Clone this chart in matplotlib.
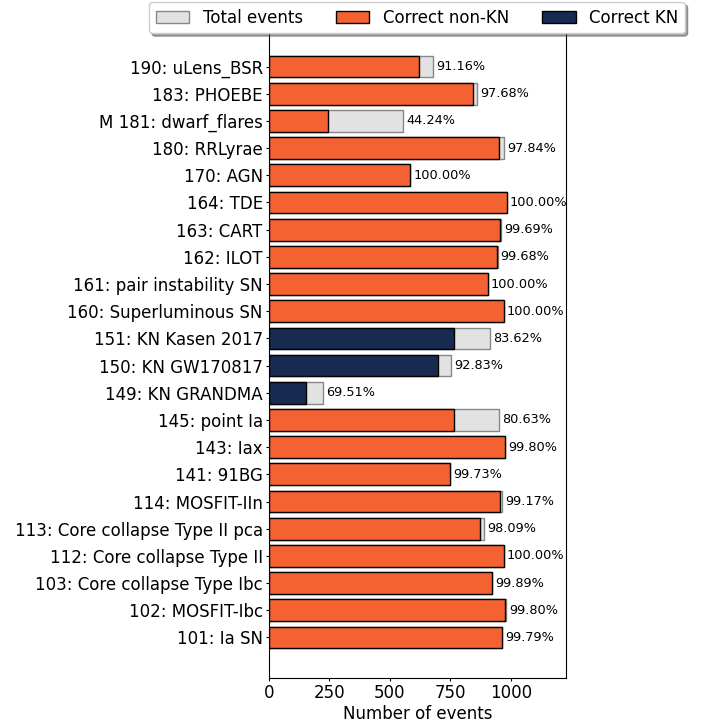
import matplotlib
matplotlib.use("Agg")
import matplotlib.pyplot as plt
import numpy as np

# Classes, bottom to top
labels = [
    "101: Ia SN", "102: MOSFIT-Ibc", "103: Core collapse Type Ibc",
    "112: Core collapse Type II", "113: Core collapse Type II pca",
    "114: MOSFIT-IIn", "141: 91BG", "143: Iax", "145: point Ia",
    "149: KN GRANDMA", "150: KN GW170817", "151: KN Kasen 2017",
    "160: Superluminous SN", "161: pair instability SN", "162: ILOT",
    "163: CART", "164: TDE", "170: AGN", "180: RRLyrae",
    "M 181: dwarf_flares", "183: PHOEBE", "190: uLens_BSR",
]
total_events = [965, 980, 924, 971, 890, 963, 750, 977, 950,
                223, 753, 916, 971, 906, 946, 960, 983, 585, 971,
                556, 862, 679]
correct_events = [963, 978, 923, 971, 873, 955, 748, 975, 766,
                  155, 699, 766, 971, 906, 943, 957, 983, 585, 950,
                  246, 842, 619]
is_kn = [False] * 9 + [True] * 3 + [False] * 10

total = np.array(total_events)
correct = np.array(correct_events)
kn = np.array(is_kn)
y = np.arange(len(labels))

c_total = "#e2e2e2"
c_nonkn = "#f46231"
c_kn = "#172a4f"

fig = plt.figure(figsize=(7.07, 7.22), dpi=100)
ax = fig.add_axes([269 / 707, 44 / 722, (566 - 269) / 707, (678 - 26) / 722])

bars_total = ax.barh(y, total, height=0.8, color=c_total, edgecolor="#888888",
                     linewidth=1.0, label="Total events", zorder=1)
ax.barh(y[~kn], correct[~kn], height=0.8, color=c_nonkn, edgecolor="black",
        linewidth=1.0, label="Correct non-KN", zorder=2)
ax.barh(y[kn], correct[kn], height=0.8, color=c_kn, edgecolor="black",
        linewidth=1.0, label="Correct KN", zorder=2)

pct = [f"{100 * c / t:.2f}%" for c, t in zip(correct, total)]
ax.bar_label(bars_total, labels=pct, padding=2.2, fontsize=9.3)

ax.set_yticks(y)
ax.set_yticklabels(labels, fontsize=12)
ax.set_xlim(0, 1.25 * total.max())
ax.set_xticks([0, 250, 500, 750, 1000])
ax.tick_params(axis="x", labelsize=12)
ax.tick_params(axis="both", length=2.5, pad=2)
ax.set_xlabel("Number of events", fontsize=12, labelpad=2)

fig.legend(loc="upper center", bbox_to_anchor=(417 / 707, 1 - 2 / 722),
           ncol=3, fontsize=12, shadow=True, borderaxespad=0.0,
           columnspacing=2.0, handlelength=2.0)

fig.savefig("out.png", dpi=100)
